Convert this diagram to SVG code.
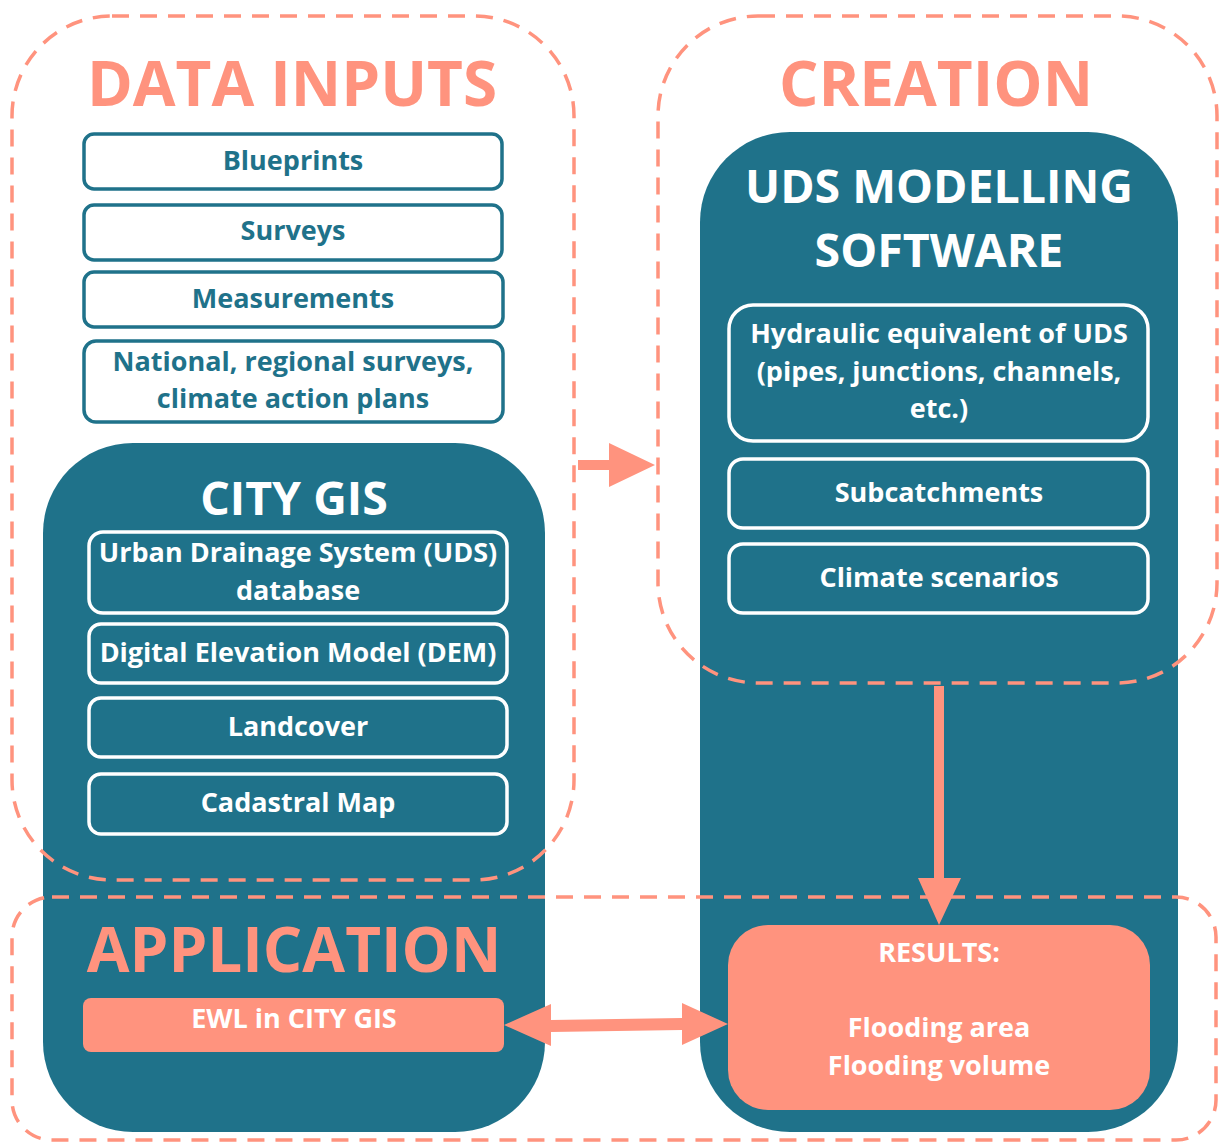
<svg xmlns="http://www.w3.org/2000/svg" width="1220" height="1142" viewBox="0 0 1220 1142">
<style>
text{font-family:"Open Sans","Noto Sans","Liberation Sans",sans-serif;font-weight:700;text-anchor:middle}
.title{font-size:62px;fill:#FF937E}
.head{font-size:46.5px;fill:#fff}
.lbl{font-size:27px}
.dk{fill:#1F728A}
.wt{fill:#fff}
.teal{fill:#1F728A}
.dash{fill:none;stroke:#FF937E;stroke-width:3.5;stroke-dasharray:17 11}
.inw{fill:#fff;stroke:#1F728A;stroke-width:3.5}
.int{fill:none;stroke:#fff;stroke-width:3.5}
.sal{fill:#FF937E}
</style>
<rect width="1220" height="1142" fill="#fff"/>
<g id="city-gis-panel">
<rect class="teal" x="43" y="443" width="502" height="689" rx="90" ry="90"/>
</g>
<g id="uds-software-panel">
<rect class="teal" x="700" y="132" width="478" height="1000" rx="90" ry="90"/>
</g>
<g id="group-data-inputs">
<rect class="dash" x="12" y="16" width="562" height="864" rx="100" ry="100"/>
<text class="title" x="292" y="106">DATA INPUTS</text>
</g>
<g id="group-creation">
<rect class="dash" x="658" y="16" width="559" height="667" rx="100" ry="100"/>
<text class="title" x="936" y="106">CREATION</text>
</g>
<g id="group-application">
<rect class="dash" x="12" y="897" width="1204" height="243" rx="40" ry="40"/>
<text class="title" x="294" y="972">APPLICATION</text>
</g>
<g id="blueprints"><rect class="inw" x="84" y="134" width="418" height="55" rx="10"/><text class="lbl dk" x="293" y="170">Blueprints</text></g>
<g id="surveys"><rect class="inw" x="84" y="205" width="418" height="55" rx="10"/><text class="lbl dk" x="293" y="240">Surveys</text></g>
<g id="measurements"><rect class="inw" x="84" y="272" width="419" height="55" rx="10"/><text class="lbl dk" x="293" y="308">Measurements</text></g>
<g id="national"><rect class="inw" x="84" y="341" width="419" height="81" rx="12"/><text class="lbl dk" x="293" y="371">National, regional surveys,</text><text class="lbl dk" x="293" y="408">climate action plans</text></g>
<g id="city-gis"><text class="head" x="294" y="515">CITY GIS</text></g>
<g id="uds-db"><rect class="int" x="89" y="532" width="418" height="81" rx="14"/><text class="lbl wt" x="298" y="562">Urban Drainage System (UDS)</text><text class="lbl wt" x="298" y="600">database</text></g>
<g id="dem"><rect class="int" x="89" y="624" width="418" height="59" rx="12"/><text class="lbl wt" x="298" y="662">Digital Elevation Model (DEM)</text></g>
<g id="landcover"><rect class="int" x="89" y="698" width="418" height="59" rx="12"/><text class="lbl wt" x="298" y="736">Landcover</text></g>
<g id="cadastral"><rect class="int" x="89" y="774" width="418" height="60" rx="12"/><text class="lbl wt" x="298" y="812">Cadastral Map</text></g>
<g id="uds-modelling"><text class="head" x="939" y="203">UDS MODELLING</text><text class="head" x="939" y="267">SOFTWARE</text></g>
<g id="hydraulic"><rect class="int" x="729" y="305" width="419" height="136" rx="24"/><text class="lbl wt" x="939" y="343">Hydraulic equivalent of UDS</text><text class="lbl wt" x="939" y="381">(pipes, junctions, channels,</text><text class="lbl wt" x="939" y="418">etc.)</text></g>
<g id="subcatchments"><rect class="int" x="729" y="459" width="419" height="69" rx="14"/><text class="lbl wt" x="939" y="502">Subcatchments</text></g>
<g id="climate"><rect class="int" x="729" y="544" width="419" height="69" rx="14"/><text class="lbl wt" x="939" y="587">Climate scenarios</text></g>
<g id="results"><rect class="sal" x="728" y="925" width="422" height="185" rx="40"/><text class="lbl wt" x="939" y="962">RESULTS:</text><text class="lbl wt" x="939" y="1037">Flooding area</text><text class="lbl wt" x="939" y="1075">Flooding volume</text></g>
<g id="ewl"><rect class="sal" x="83" y="998" width="421" height="54" rx="8"/><text class="lbl wt" x="294" y="1028">EWL in CITY GIS</text></g>
<g id="connectors">
<polygon class="sal" points="578,460 609,460 609,443 655,465 609,487 609,470 578,470"/>
<polygon class="sal" points="934,686 944,686 944,878 961,878 939,925 918,878 934,878"/>
<polygon class="sal" points="504,1025 551,1004 551,1020 682,1018 682,1003 728,1024 682,1045 682,1030 551,1032 551,1046"/>
</g>
</svg>
